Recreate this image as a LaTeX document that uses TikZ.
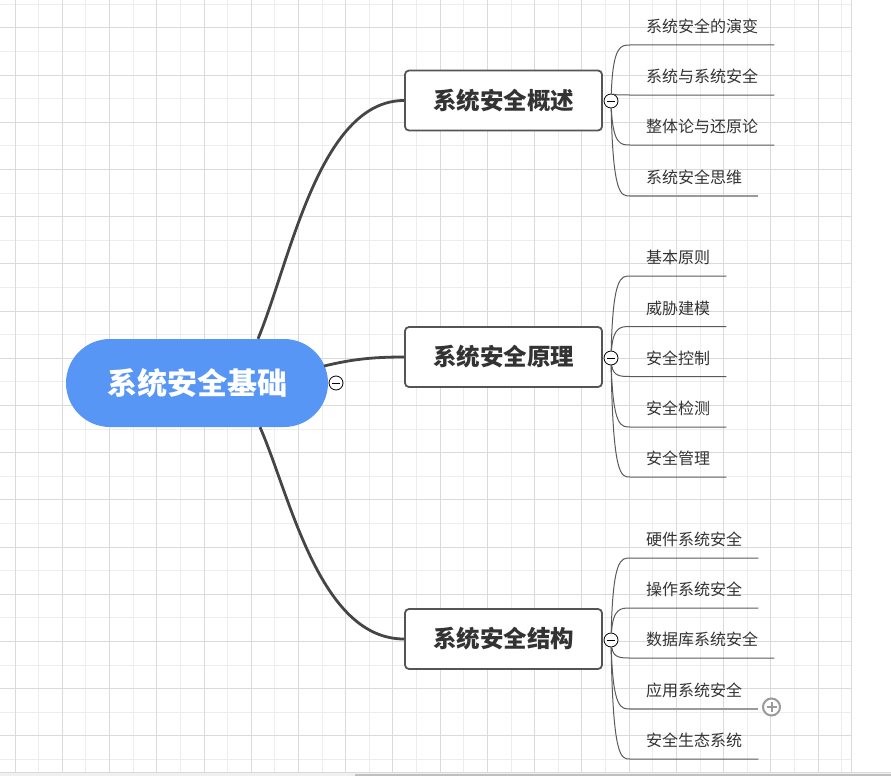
\documentclass[tikz,border=0pt]{standalone}
\usepackage{fontspec}
\setmainfont{Noto Sans CJK SC}
\usetikzlibrary{calc}
\definecolor{rootblue}{HTML}{5896F6}
\definecolor{inkdark}{HTML}{333333}
\definecolor{trunkgray}{HTML}{454545}
\definecolor{framegray}{HTML}{555555}
\definecolor{twiggray}{HTML}{5A5A5A}
\definecolor{fadegray}{HTML}{9A9A9A}
\definecolor{gridmajor}{HTML}{DADADA}
\definecolor{gridminor}{HTML}{EDEDED}
\tikzset{
  rootbox/.style={fill=rootblue, rounded corners=44pt, minimum width=262pt,
                  minimum height=88pt, text=white,
                  font=\fontsize{30}{32}\selectfont\bfseries},
  topicbox/.style={draw=framegray, line width=1.8pt, fill=white, rounded corners=4pt,
                   minimum width=197pt, minimum height=60pt, text=inkdark,
                   font=\fontsize{23.5}{25}\selectfont\bfseries},
  leaf/.style={anchor=south west, inner xsep=16pt, inner ysep=8pt, text height=12pt,
               text depth=4pt, text=inkdark, font=\fontsize{16}{18}\selectfont},
  fold/.style={circle, draw=black, line width=0.8pt, fill=white, minimum size=14pt,
               inner sep=0pt,
               path picture={\draw[line width=0.9pt]
                 ([xshift=-4pt]path picture bounding box.center) --
                 ([xshift=4pt]path picture bounding box.center);}},
  unfold/.style={circle, draw=fadegray, line width=2pt, fill=white, minimum size=17pt,
                 inner sep=0pt,
                 path picture={\draw[fadegray, line width=2pt]
                   ([xshift=-5pt]path picture bounding box.center) --
                   ([xshift=5pt]path picture bounding box.center)
                   ([yshift=-5pt]path picture bounding box.center) --
                   ([yshift=5pt]path picture bounding box.center);}},
  trunk/.style={draw=trunkgray, line width=2.8pt},
  twig/.style={draw=twiggray, line width=1pt,
               to path={.. controls ($(\tikztostart|-\tikztotarget)+(2,0)$)
                        and ($(\tikztostart|-\tikztotarget)+(10,0)$) .. (\tikztotarget)}},
  faint/.style={draw=fadegray, line width=1.6pt},
  gmaj/.style={draw=gridmajor, line width=0.9pt},
  gmin/.style={draw=gridminor, line width=0.9pt}}
\begin{document}
\begin{tikzpicture}[x=1pt, y=-1pt]
  \useasboundingbox (0,0) rectangle (891,776);
  % grid paper
  \foreach \i in {1,3,...,35} \draw[gmin] ({15+\i*23.62},0) -- ++(0,772);
  \foreach \j in {0,2,...,32} \draw[gmin] (0,{4.3+\j*23.6}) -- ++(851.5,0);
  \foreach \i in {0,2,...,34} \draw[gmaj] ({15+\i*23.62},0) -- ++(0,772);
  \foreach \j in {1,3,...,31} \draw[gmaj] (0,{4.3+\j*23.6}) -- ++(851.5,0);
  \draw[gmaj] (851.5,0) -- (851.5,772);
  \fill[black!6] (0,772) rectangle (891,776);
  \draw[gmaj] (0,772) -- (891,772);
  \fill[black!25] (355,774) rectangle (891,776);

  % centre and main topics
  \node[rootbox] (root) at (197,383) {系统安全基础};
  \node[fold] (rootc) at (336,383) {};
  \node[topicbox] (ov) at (503.5,100.5) {系统安全概述};
  \node[topicbox] (pr) at (503.5,357) {系统安全原理};
  \node[topicbox] (st) at (503.5,639) {系统安全结构};
  \node[fold] (ovc) at (611,101) {};
  \node[fold] (prc) at (611,358) {};
  \node[fold] (stc) at (611,640) {};

  \draw[trunk] ([xshift=61pt]root.north) .. controls +(32,-77) and +(-85,0) .. (ov.west);
  \draw[trunk] ([xshift=-4pt,yshift=17pt]root.east) .. controls +(25,-6) and +(-35,0) .. (pr.west);
  \draw[trunk] ([xshift=63pt]root.south) .. controls +(30,68) and +(-85,0) .. (st.west);

  % subtopics
  \node[leaf] (ov1) at (630,45) {系统安全的演变};
  \node[leaf] (ov2) at (630,95) {系统与系统安全};
  \node[leaf] (ov3) at (630,145) {整体论与还原论};
  \node[leaf] (ov4) at (630,196) {系统安全思维};

  \node[leaf] (pr1) at (630,276) {基本原则};
  \node[leaf] (pr2) at (630,326.5) {威胁建模};
  \node[leaf] (pr3) at (630,376.5) {安全控制};
  \node[leaf] (pr4) at (630,427) {安全检测};
  \node[leaf] (pr5) at (630,477) {安全管理};

  \node[leaf] (st1) at (630,558) {硬件系统安全};
  \node[leaf] (st2) at (630,608) {操作系统安全};
  \node[leaf] (st3) at (630,658) {数据库系统安全};
  \node[leaf] (st4) at (630,709) {应用系统安全};
  \node[leaf] (st5) at (630,759) {安全生态系统};
  \node[unfold] (st4x) at (771.5,707) {};

  \foreach \l in {ov1,ov2,ov3}
    \draw[twig] (ovc) to (\l.south west) -- (\l.south east);
  \draw[twig] (ovc) to (ov4.south west);
  \draw[faint] (ov4.south west) -- (ov4.south east);
  \foreach \l in {pr1,pr2,pr3,pr4,pr5}
    \draw[twig] (prc) to (\l.south west) -- (\l.south east);
  \foreach \l in {st1,st2,st3,st5}
    \draw[twig] (stc) to (\l.south west) -- (\l.south east);
  \draw[twig] (stc) to (st4.south west);
  \draw[faint] (st4.south west) -- (st4.south east);
\end{tikzpicture}
\end{document}
